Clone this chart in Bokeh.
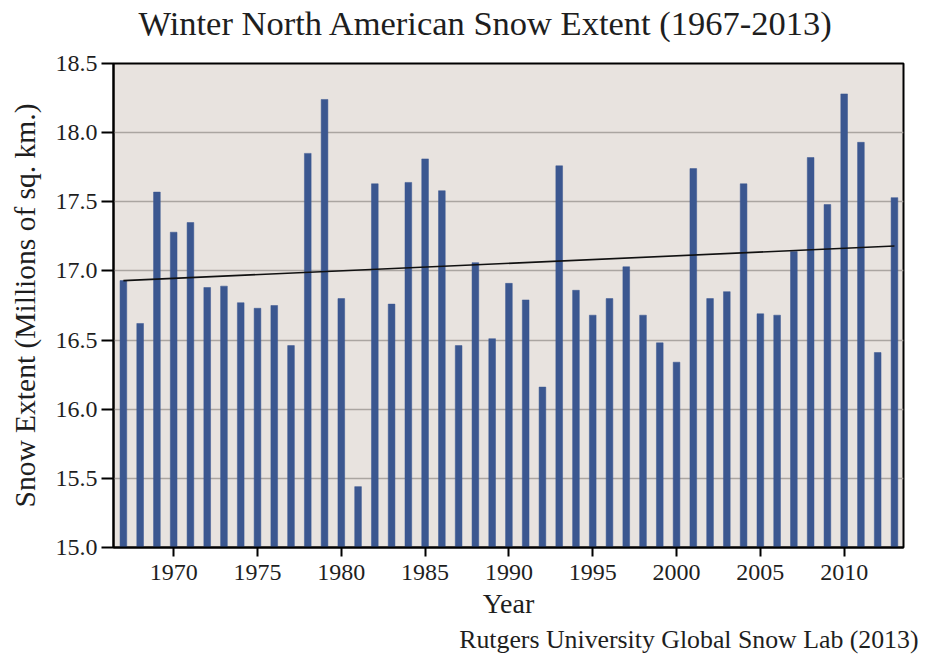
from bokeh.plotting import figure
from bokeh.models import FixedTicker, Title, Range1d, NumeralTickFormatter
from bokeh.embed import file_html
from bokeh.resources import INLINE

years = list(range(1967, 2014))
snow_extent = [
    16.93, 16.62, 17.57, 17.28, 17.35, 16.88, 16.89, 16.77, 16.73, 16.75,
    16.46, 17.85, 18.24, 16.80, 15.44, 17.63, 16.76, 17.64, 17.81, 17.58,
    16.46, 17.06, 16.51, 16.91, 16.79, 16.16, 17.76, 16.86, 16.68, 16.80,
    17.03, 16.68, 16.48, 16.34, 17.74, 16.80, 16.85, 17.63, 16.69, 16.68,
    17.14, 17.82, 17.48, 18.28, 17.93, 16.41, 17.53,
]
trend_years = [1967, 2013]
trend_values = [16.93, 17.18]
x_ticks = [1970, 1975, 1980, 1985, 1990, 1995, 2000, 2005, 2010]
y_ticks = [15.0, 15.5, 16.0, 16.5, 17.0, 17.5, 18.0, 18.5]

FONT = "Liberation Serif"
TXT = "#1e1e1e"

p = figure(width=927, height=654, output_backend="svg", toolbar_location=None,
           x_range=Range1d(1966.41, 2013.54), y_range=Range1d(15.0, 18.5),
           min_border_left=113, min_border_right=24, min_border_top=63,
           min_border_bottom=107)

# spacer between frame and title (closest to the frame)
spacer = Title(text=" ", text_font_size="10px", standoff=9)
p.add_layout(spacer, "above")
main_title = Title(text="Winter North American Snow Extent (1967-2013)",
                   align="left", offset=25, standoff=0, text_font=FONT,
                   text_font_size="34.5px", text_font_style="normal",
                   text_color=TXT)
p.add_layout(main_title, "above")

p.background_fill_color = "#e8e3df"
p.border_fill_color = "white"
p.outline_line_color = "black"
p.outline_line_width = 2

p.vbar(x=years, top=snow_extent, bottom=15.0, width=0.4,
       fill_color="#3b5790", line_color="#3b5790", line_width=0.5)
p.line(trend_years, trend_values, line_color="#111111", line_width=1.6)

p.xgrid.grid_line_color = None
p.ygrid.grid_line_color = "#aaa5a1"
p.ygrid.grid_line_width = 1.5
p.ygrid.ticker = FixedTicker(ticks=y_ticks)

p.xaxis.ticker = FixedTicker(ticks=x_ticks)
p.yaxis.ticker = FixedTicker(ticks=y_ticks)
p.yaxis.formatter = NumeralTickFormatter(format="0.0")

for ax in (p.xaxis, p.yaxis):
    ax.axis_line_color = "black"
    ax.axis_line_width = 2
    ax.major_tick_line_color = "black"
    ax.major_tick_line_width = 2
    ax.major_tick_in = 0
    ax.minor_tick_line_color = None
    ax.major_label_text_font = FONT
    ax.major_label_text_font_size = "24px"
    ax.major_label_text_color = TXT
    ax.axis_label_text_font = FONT
    ax.axis_label_text_font_style = "normal"
    ax.axis_label_text_color = TXT

p.xaxis.major_tick_out = 9
p.yaxis.major_tick_out = 12
p.xaxis.major_label_standoff = 8
p.yaxis.major_label_standoff = 4
p.xaxis.axis_label = "Year"
p.xaxis.axis_label_text_font_size = "28px"
p.xaxis.axis_label_standoff = 5
p.yaxis.axis_label = "Snow Extent (Millions of sq. km.)"
p.yaxis.axis_label_text_font_size = "29.5px"
p.yaxis.axis_label_standoff = 12

src = Title(text="Rutgers University Global Snow Lab (2013)", align="right",
            offset=-15, standoff=2, text_font=FONT, text_font_size="25.8px",
            text_font_style="normal", text_color=TXT)
p.add_layout(src, "below")

open("out.html", "w").write(file_html(p, INLINE))
